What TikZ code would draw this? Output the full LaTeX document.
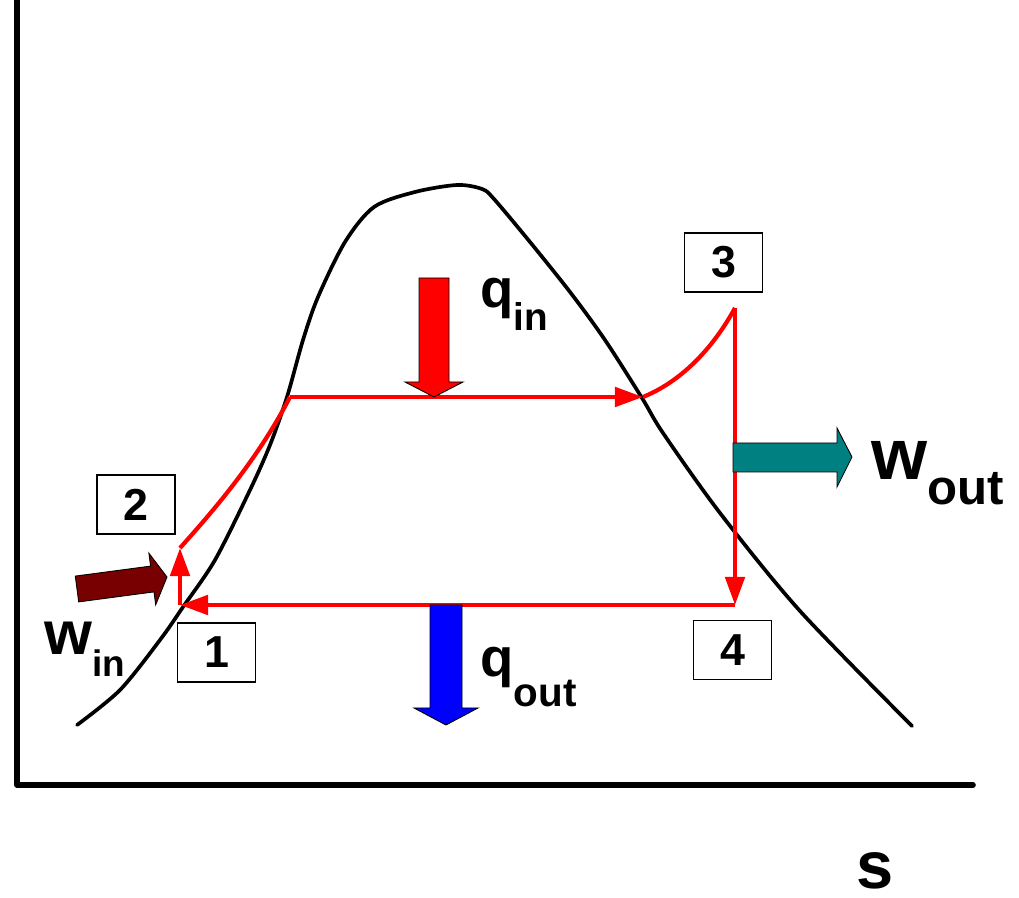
\documentclass[tikz,border=0pt]{standalone}
\usepackage{fontspec}
\setmainfont{Liberation Sans}
\usetikzlibrary{arrows.meta}

\definecolor{workout}{RGB}{0,128,128}
\definecolor{workin}{RGB}{120,0,0}

\newcommand{\symlab}[5]{\bfseries\fontsize{#1}{#1}\selectfont #2\raisebox{-#5}{\fontsize{#3}{#3}\selectfont #4}}

\tikzset{
  axisline/.style={black, line width=3.2pt, line cap=round, line join=round},
  domeline/.style={black, line width=2.1pt, line cap=round},
  cycleline/.style={red, line width=2.4pt},
  cyclearrow/.style={cycleline, -{Triangle[length=16pt,width=11pt]}},
  blockarrow/.style={draw=black, line width=0.5pt, line join=miter},
  statebox/.style={draw, line width=1.1pt, minimum width=1.56cm, minimum height=1.18cm, inner sep=0pt, font=\bfseries\fontsize{25.5}{26}\selectfont},
  lab/.style={anchor=base west, inner sep=0pt}
}

\begin{document}
\begin{tikzpicture}[x=0.02cm, y=-0.02cm]
        \useasboundingbox (0,0) rectangle (1019,898);

        % Draw axes
        \draw[axisline] (17,0) -- (17,785) -- (973,785);
        \node[lab, font=\bfseries\fontsize{38}{38}\selectfont] (sax) at (856,889) {s};

        % Draw saturation dome
        \draw[domeline] plot[smooth, tension=0.5] coordinates {(77,725) (120,690) (160,640) (183,607) (215,560) (250,490) (270,445) (287,397) (303,340) (318,297) (345,242) (374,207) (415,192) (457,185) (482,189) (494,199) (530,242) (570,292) (605,340) (642,398) (663,433) (720,513) (800,611) (912,726)};

        % Draw states
        \coordinate (p1) at (180,605);
        \coordinate (p2) at (180,548);
        \coordinate (pa) at (290,397);
        \coordinate (pb) at (643,397);
        \coordinate (p3) at (735,308);
        \coordinate (p4) at (735,605);

        % Draw cycle
        \draw[cyclearrow] (p1) -- (p2);
        \draw[cycleline] (p2) -- (188,539) .. controls (220,503) and (260,455) .. (pa);
        \draw[cyclearrow] (pa) -- (pb);
        \draw[cycleline] (pb) .. controls (680,382) and (712,350) .. (p3);
        \draw[cyclearrow] (p3) -- (p4);
        \draw[cyclearrow] (p4) -- (p1);

        % Draw state labels
        \node[statebox] (s1) at (216.5,652.5) {1};
        \node[statebox] (s2) at (136,504.5) {2};
        \node[statebox] (s3) at (723.5,262.5) {3};
        \node[statebox] (s4) at (732.5,650) {4};

        % Draw heat and work arrows
        \draw[blockarrow, fill=red] (419,278) -- (449,278) -- (449,382) -- (463,382) -- (434,397) -- (405,382) -- (419,382) -- cycle;
        \draw[blockarrow, fill=blue] (430,605) -- (462,605) -- (462,708) -- (478,708) -- (446,725) -- (414,708) -- (430,708) -- cycle;
        \draw[blockarrow, fill=workout] (733,443) -- (837,443) -- (837,428) -- (852,457) -- (837,487) -- (837,472) -- (733,472) -- cycle;
        \draw[blockarrow, fill=workin] (75.3,576.1) -- (150.6,566.1) -- (148.9,553.2) -- (167,577) -- (155.7,604.8) -- (154,591.9) -- (78.7,601.9) -- cycle;

        \node[lab] (qin) at (480,308) {\symlab{31}{q}{22}{in}{13pt}};
        \node[lab] (qout) at (480,677) {\symlab{31}{q}{23}{out}{17pt}};
        \node[lab] (wout) at (871,480) {\symlab{41}{w}{28}{out}{14pt}};
        \node[lab] (win) at (44,655) {\symlab{35}{w}{21}{in}{12.5pt}};
\end{tikzpicture}
\end{document}
